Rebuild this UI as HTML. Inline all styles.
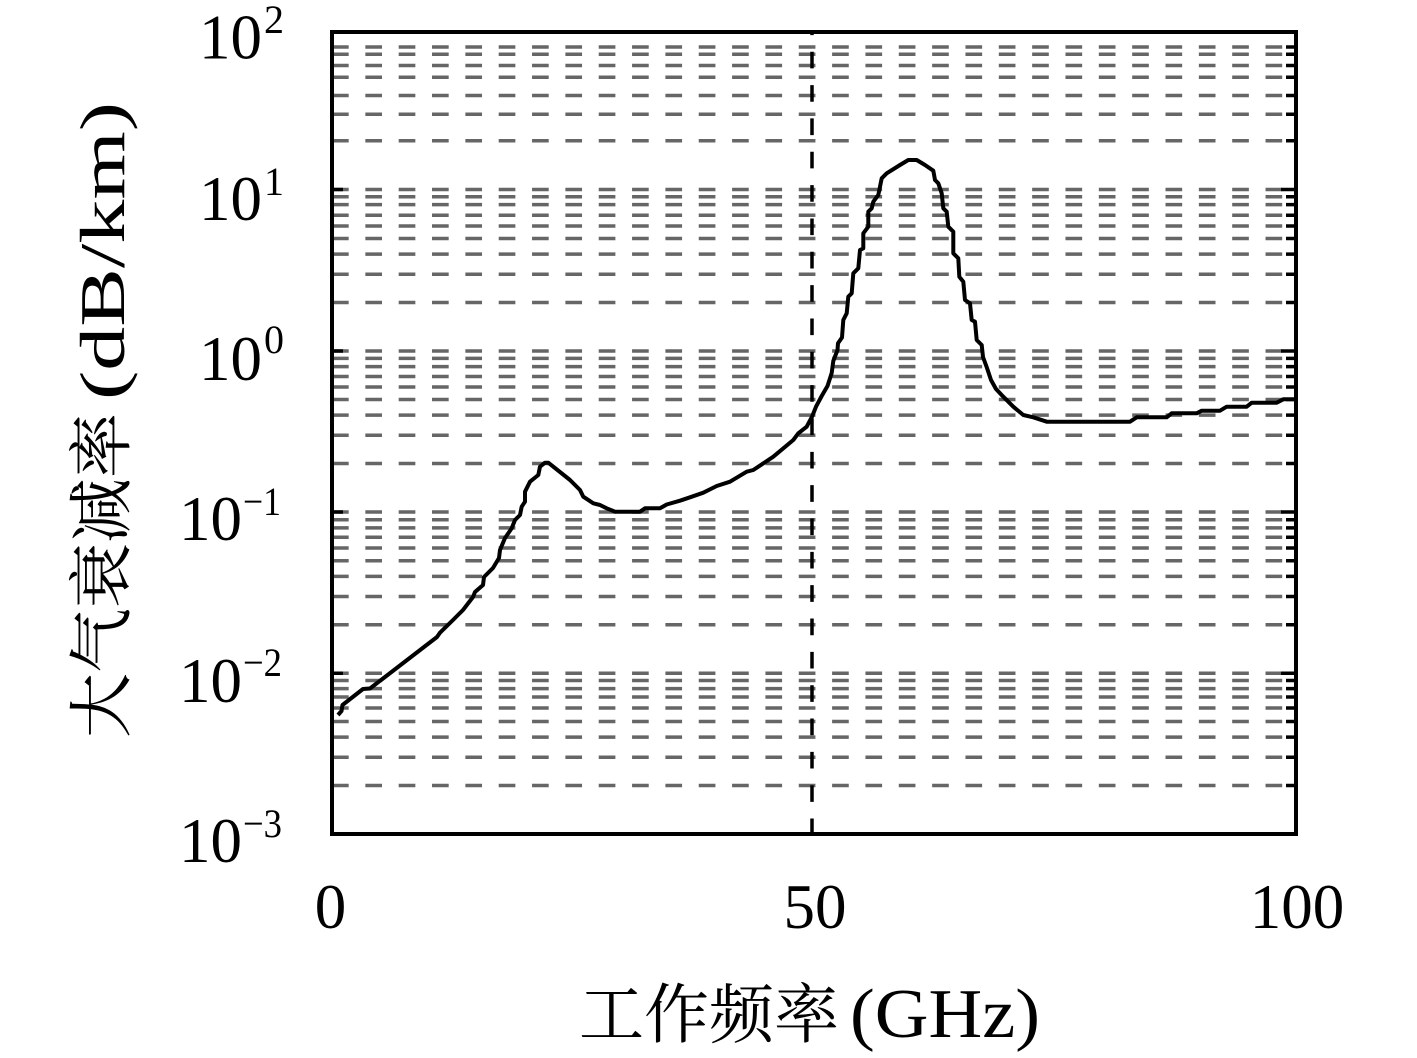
<!DOCTYPE html>
<html>
<head>
<meta charset="utf-8">
<style>
html,body{margin:0;padding:0;background:#fff;}
svg{display:block;}
</style>
</head>
<body>
<svg width="1417" height="1058" viewBox="0 0 1417 1058" xmlns="http://www.w3.org/2000/svg">
<rect x="0" y="0" width="1417" height="1058" fill="#fff"/>
<g stroke="#666666" stroke-width="3.5" stroke-dasharray="16.67 16.67" fill="none">
<line x1="332" x2="1296" y1="785.5" y2="785.5"/>
<line x1="332" x2="1296" y1="757.2" y2="757.2"/>
<line x1="332" x2="1296" y1="737.1" y2="737.1"/>
<line x1="332" x2="1296" y1="721.5" y2="721.5"/>
<line x1="332" x2="1296" y1="708.0" y2="708.0"/>
<line x1="332" x2="1296" y1="697.0" y2="697.0"/>
<line x1="332" x2="1296" y1="688.6" y2="688.6"/>
<line x1="332" x2="1296" y1="680.5" y2="680.5"/>
<line x1="332" x2="1296" y1="673.3" y2="673.3"/>
<line x1="332" x2="1296" y1="624.8" y2="624.8"/>
<line x1="332" x2="1296" y1="596.5" y2="596.5"/>
<line x1="332" x2="1296" y1="576.4" y2="576.4"/>
<line x1="332" x2="1296" y1="560.8" y2="560.8"/>
<line x1="332" x2="1296" y1="548.0" y2="548.0"/>
<line x1="332" x2="1296" y1="537.2" y2="537.2"/>
<line x1="332" x2="1296" y1="527.9" y2="527.9"/>
<line x1="332" x2="1296" y1="519.7" y2="519.7"/>
<line x1="332" x2="1296" y1="512.0" y2="512.0"/>
<line x1="332" x2="1296" y1="463.5" y2="463.5"/>
<line x1="332" x2="1296" y1="435.2" y2="435.2"/>
<line x1="332" x2="1296" y1="415.1" y2="415.1"/>
<line x1="332" x2="1296" y1="399.5" y2="399.5"/>
<line x1="332" x2="1296" y1="387.0" y2="387.0"/>
<line x1="332" x2="1296" y1="376.5" y2="376.5"/>
<line x1="332" x2="1296" y1="366.6" y2="366.6"/>
<line x1="332" x2="1296" y1="358.4" y2="358.4"/>
<line x1="332" x2="1296" y1="351.0" y2="351.0"/>
<line x1="332" x2="1296" y1="302.5" y2="302.5"/>
<line x1="332" x2="1296" y1="274.2" y2="274.2"/>
<line x1="332" x2="1296" y1="254.1" y2="254.1"/>
<line x1="332" x2="1296" y1="238.5" y2="238.5"/>
<line x1="332" x2="1296" y1="226.0" y2="226.0"/>
<line x1="332" x2="1296" y1="215.3" y2="215.3"/>
<line x1="332" x2="1296" y1="204.6" y2="204.6"/>
<line x1="332" x2="1296" y1="196.7" y2="196.7"/>
<line x1="332" x2="1296" y1="189.5" y2="189.5"/>
<line x1="332" x2="1296" y1="140.8" y2="140.8"/>
<line x1="332" x2="1296" y1="114.2" y2="114.2"/>
<line x1="332" x2="1296" y1="95.5" y2="95.5"/>
<line x1="332" x2="1296" y1="77.2" y2="77.2"/>
<line x1="332" x2="1296" y1="65.5" y2="65.5"/>
<line x1="332" x2="1296" y1="54.3" y2="54.3"/>
<line x1="332" x2="1296" y1="47.0" y2="47.0"/>
</g>
<g stroke="#000" stroke-width="3.5" fill="none">
<path d="M1286 785.5H1296M1286 757.2H1296M1286 737.1H1296M1286 721.5H1296M1286 708H1296M1286 697H1296M1286 688.6H1296M1286 680.5H1296M1286 624.8H1296M1286 596.5H1296M1286 576.4H1296M1286 560.8H1296M1286 548H1296M1286 537.2H1296M1286 527.9H1296M1286 519.7H1296M1286 463.5H1296M1286 435.2H1296M1286 415.1H1296M1286 399.5H1296M1286 387H1296M1286 376.5H1296M1286 366.6H1296M1286 358.4H1296M1286 302.5H1296M1286 274.2H1296M1286 254.1H1296M1286 238.5H1296M1286 226H1296M1286 215.3H1296M1286 204.6H1296M1286 196.7H1296M1286 140.8H1296M1286 114.2H1296M1286 95.5H1296M1286 77.2H1296M1286 65.5H1296M1286 54.3H1296M1286 47H1296M1281 673.3H1296M1281 512H1296M1281 351H1296M1281 189.5H1296M332 673.3H343M332 512H343M332 351H343M332 189.5H343"/>
</g>
<line x1="812" x2="812" y1="32" y2="834" stroke="#000" stroke-width="3.5" stroke-dasharray="16.67 16.67" stroke-dashoffset="13.6"/>
<rect x="332" y="32" width="964" height="802" fill="none" stroke="#000" stroke-width="4"/>
<polyline fill="none" stroke="#000" stroke-width="4" stroke-linejoin="round" points="338,715 341.5,711 342.5,705 363,689 370,688.5 437,637 440,632.7 453,620 463,610 473,597 475,592 483,585 484,577 493,568 499,558 500,550 505,538 511.7,528.3 515,520 520,515 521.7,506.7 525,501.7 525,491.7 530,481.7 538.3,475 540,466.7 545,462.7 548.3,462.7 570,480 580,490 583.3,496.7 593.3,503.3 600,505 606.7,508.3 615,511.7 640,511.7 645,508.3 660,508.3 666.7,504.5 680,500.7 690,497.3 703.3,492.7 716.7,486 730,481.7 746.7,471.7 753.3,470 773.3,456.7 793.3,440 798.3,433.3 806.7,426.7 812,416.7 816,406.7 821.7,396 827.5,386 831.7,373 833.3,361 837.5,350 838,343.3 842,337.5 843.3,320 846.7,313.3 848.3,296.7 851.7,293.3 853.3,273.3 858.3,268.3 860,250 863.3,248.3 863.3,233.3 868.3,226.7 868.3,211.7 871.7,208.3 873.3,201.7 878.3,195 881.7,178.3 886.7,173.3 900,165 908.3,160 916.7,160 925,165 933.3,170.7 935,180 938.3,183.3 941.7,193.3 943.3,208.3 946.7,211.7 948.3,226.7 953.3,231.7 953.3,253.3 958.3,258.3 959.3,276.7 963.3,281.7 965,300 970,303.3 971.7,320 975,321.7 976.7,340 981.7,345 983,357 987,368 991,380 996,389 1003.3,396.7 1013.3,406.7 1023.3,415 1033.3,417.3 1046.7,421.7 1130,421.7 1136.7,417.3 1166.7,417.3 1171.7,413.3 1196.7,413.3 1201.7,410.7 1220,410.7 1226.7,406.7 1246.7,406.7 1251.7,402.7 1276.7,402.7 1283.3,399.3 1295,399.3"/>
<g font-family="'Liberation Serif', serif" fill="#000">
<text x="262" y="58.5" font-size="63" text-anchor="end">10</text>
<text x="264" y="33" font-size="40">2</text>
<text x="262" y="220" font-size="63" text-anchor="end">10</text>
<text x="264" y="195" font-size="40">1</text>
<text x="262" y="380" font-size="63" text-anchor="end">10</text>
<text x="264" y="353" font-size="40">0</text>
<text x="242" y="540" font-size="63" text-anchor="end">10</text>
<text x="243" y="515" font-size="40" textLength="38" lengthAdjust="spacingAndGlyphs">−1</text>
<text x="242" y="702" font-size="63" text-anchor="end">10</text>
<text x="243" y="676" font-size="40" textLength="39" lengthAdjust="spacingAndGlyphs">−2</text>
<text x="242" y="862" font-size="63" text-anchor="end">10</text>
<text x="243" y="837" font-size="40" textLength="39" lengthAdjust="spacingAndGlyphs">−3</text>
<text x="330.5" y="928" font-size="63" text-anchor="middle">0</text>
<text x="815" y="928" font-size="63" text-anchor="middle">50</text>
<text x="1297" y="928" font-size="63" text-anchor="middle">100</text>
</g>
<text x="579" y="1037" font-family="'Noto Serif CJK SC', 'Noto Sans CJK SC', serif" font-size="65" fill="#000">工作频率</text>
<text x="850" y="1037" font-family="'Liberation Serif', serif" font-size="70" fill="#000" textLength="190" lengthAdjust="spacingAndGlyphs">(GHz)</text>
<g transform="translate(124,738) rotate(-90)">
<text x="0" y="0" font-family="'Noto Serif CJK SC', 'Noto Sans CJK SC', serif" font-size="65" fill="#000">大气衰减率</text>
<text x="338" y="0" font-family="'Liberation Serif', serif" font-size="64" fill="#000" textLength="298" lengthAdjust="spacingAndGlyphs">(dB/km)</text>
</g>
</svg>
</body>
</html>
